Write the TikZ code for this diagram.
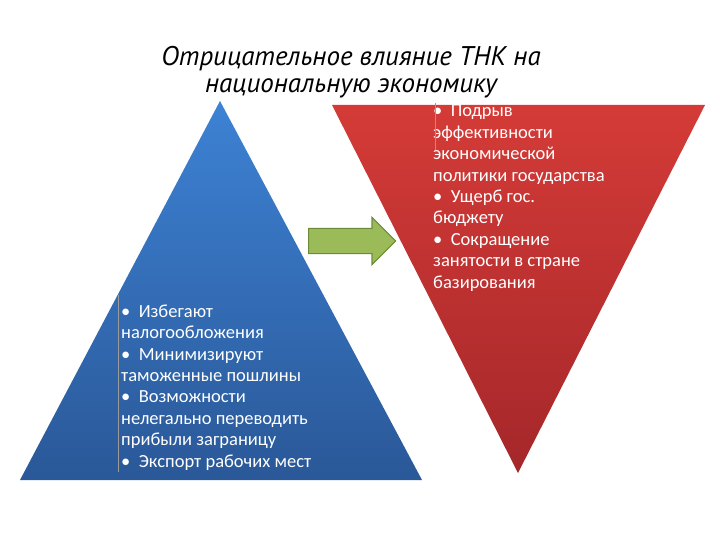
\documentclass[tikz,border=0pt]{standalone}
\usepackage{fontspec}
\setmainfont{Carlito}
\newfontfamily\titlefont{PT Sans}
\usetikzlibrary{shapes.arrows}
\definecolor{BlueTop}{HTML}{3D82D4}
\definecolor{BlueBottom}{HTML}{2A5898}
\definecolor{RedTop}{HTML}{D43B37}
\definecolor{RedBottom}{HTML}{A5272A}
\definecolor{ArrowFill}{HTML}{9BBB59}
\definecolor{ArrowDraw}{HTML}{6B8A3A}
\definecolor{CursorLine}{HTML}{9A9A9A}

\begin{document}
\begin{tikzpicture}[
	x=1pt, y=-1pt,
	% Title style
	title/.style={
		font=\titlefont\fontsize{27}{27}\selectfont\itshape,
		text=black,
		align=center,
		inner sep=0pt
	},
	% Bullet list style
	list text/.style={
		font=\fontsize{18.5}{21.4}\selectfont,
		text=white,
		align=left,
		inner sep=0pt,
		anchor=base west
	},
	% Pyramid styles
	blue pyramid/.style={
		top color=BlueTop,
		bottom color=BlueBottom,
		draw=none
	},
	red pyramid/.style={
		top color=RedTop,
		bottom color=RedBottom,
		draw=none
	},
	% Arrow style
	green arrow/.style={
		single arrow,
		draw=ArrowDraw,
		fill=ArrowFill,
		line width=1.2pt,
		minimum width=46pt,
		minimum height=87pt,
		single arrow head extend=11pt,
		single arrow head indent=0pt,
		inner xsep=0pt,
		inner ysep=12pt,
		anchor=tail
	},
	cursor/.style={
		draw=CursorLine,
		line width=0.6pt
	}
	]
	\useasboundingbox (0,0) rectangle (720,540);
	
	% ================= SHAPES =================
	\coordinate (BA) at (220,101);
	\coordinate (BL) at (20,480);
	\coordinate (BR) at (422,480);
	\path[blue pyramid] (BA) -- (BR) -- (BL) -- cycle;
	
	\coordinate (RL) at (332,105);
	\coordinate (RR) at (705,105);
	\coordinate (RB) at (518,473);
	\path[red pyramid] (RL) -- (RR) -- (RB) -- cycle;
	
	\node[green arrow] (arrow) at (308,241) {};
	
	% ================= TEXTS =================
	\node[title] (title) at (351,72) {Отрицательное влияние ТНК на\\национальную экономику};
	
	% anchored at the baseline of the last line
	\node[list text] (causes) at (121,467) {•\ \ Избегают\\налогообложения\\•\ \ Минимизируют\\таможенные пошлины\\•\ \ Возможности\\нелегально переводить\\прибыли заграницу\\•\ \ Экспорт рабочих мест};
	
	\node[list text] (effects) at (433,288) {•\ \ Подрыв\\эффективности\\экономической\\политики государства\\•\ \ Ущерб гос.\\бюджету\\•\ \ Сокращение\\занятости в стране\\базирования};
	
	% ================= CURSORS =================
	\coordinate (c1) at (118,295);
	\coordinate (c2) at (118,472);
	\draw[cursor] (c1) -- (c2);
	\coordinate (c3) at (435,103);
	\coordinate (c4) at (435,150);
	\draw[cursor] (c3) -- (c4);
	
\end{tikzpicture}
\end{document}
